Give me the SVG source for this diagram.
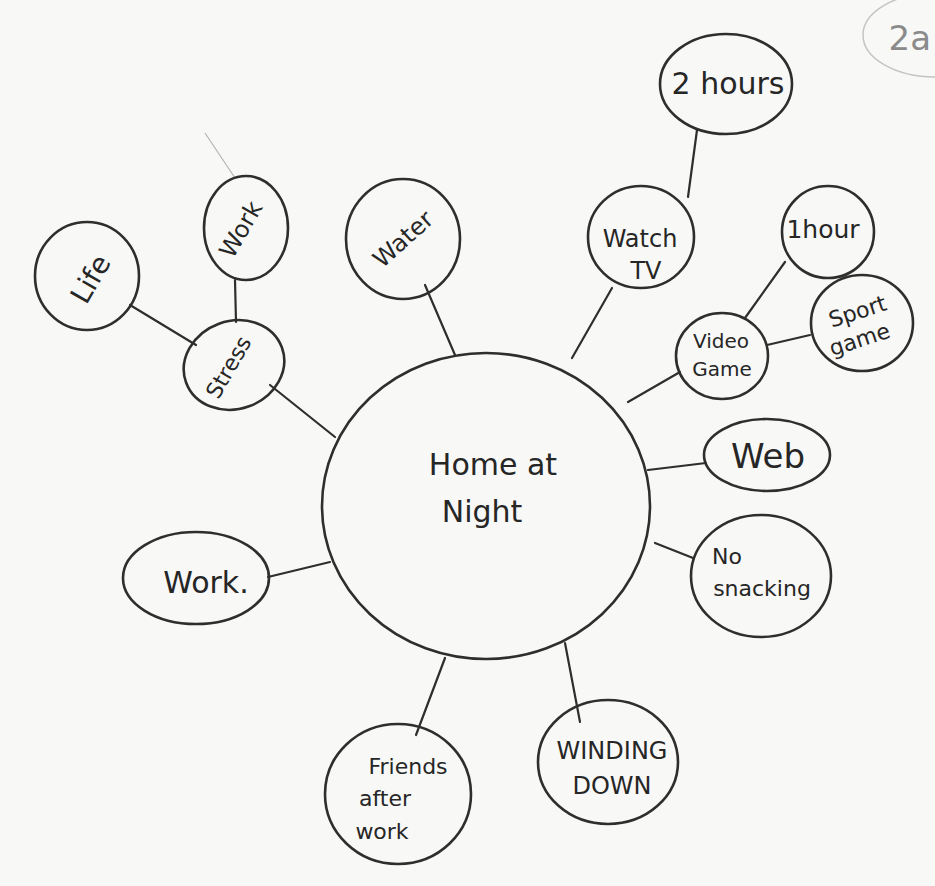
<svg xmlns="http://www.w3.org/2000/svg" width="935" height="886" viewBox="0 0 935 886">
<style>
.n{fill:none;stroke:#2e2e2e;stroke-width:2.6}
.c{fill:none;stroke:#2e2e2e;stroke-width:2.2;stroke-linecap:round}
.t{font-family:"DejaVu Sans","Liberation Sans",sans-serif;fill:#262626;text-anchor:middle;dominant-baseline:middle}
</style>
<rect width="935" height="886" fill="#f8f8f6"/>
<g id="corner">
<ellipse cx="935" cy="35" rx="72" ry="42" fill="none" stroke="#c4c4c4" stroke-width="1.5"/>
<text x="931" y="40" font-size="34" font-family="DejaVu Sans, Liberation Sans, sans-serif" text-anchor="end" dominant-baseline="middle" fill="#8a8a8a">2a</text>
</g>
<g id="connectors">
<line class="c" x1="335" y1="437" x2="270" y2="385"/>
<line class="c" x1="196" y1="345" x2="130" y2="305"/>
<line class="c" x1="236" y1="322" x2="235" y2="280"/>
<line x1="205" y1="133" x2="235" y2="178" stroke="#b5b5b5" stroke-width="1.2"/>
<line class="c" x1="425" y1="285" x2="455" y2="355"/>
<line class="c" x1="612" y1="288" x2="572" y2="358"/>
<line class="c" x1="688" y1="197" x2="697" y2="130"/>
<line class="c" x1="680" y1="372" x2="628" y2="402"/>
<line class="c" x1="745" y1="318" x2="785" y2="262"/>
<line class="c" x1="767" y1="345" x2="810" y2="335"/>
<line class="c" x1="648" y1="470" x2="706" y2="463"/>
<line class="c" x1="655" y1="543" x2="693" y2="558"/>
<line class="c" x1="268" y1="577" x2="330" y2="562"/>
<line class="c" x1="445" y1="658" x2="416" y2="735"/>
<line class="c" x1="565" y1="643" x2="580" y2="722"/>
</g>
<g id="home">
<ellipse class="n" cx="486" cy="506" rx="164" ry="153"/>
<text class="t" x="493" y="466" font-size="30">Home at</text>
<text class="t" x="482" y="513" font-size="30">Night</text>
</g>
<g id="life">
<ellipse class="n" cx="87" cy="276" rx="52" ry="54"/>
<text class="t" x="92" y="280" font-size="28" transform="rotate(-60 92 280)">Life</text>
</g>
<g id="work-top">
<ellipse class="n" cx="246" cy="228" rx="42" ry="52"/>
<text class="t" x="242" y="230" font-size="24" transform="rotate(-60 242 230)">Work</text>
</g>
<g id="stress">
<ellipse class="n" cx="234" cy="365" rx="51" ry="44" transform="rotate(-20 234 365)"/>
<text class="t" x="230" y="368" font-size="22" transform="rotate(-60 230 368)">Stress</text>
</g>
<g id="water">
<ellipse class="n" cx="403" cy="239" rx="57" ry="60"/>
<text class="t" x="404" y="240" font-size="24" transform="rotate(-42 404 240)">Water</text>
</g>
<g id="two-hours">
<ellipse class="n" cx="726" cy="84" rx="66" ry="50"/>
<text class="t" x="728" y="85" font-size="30">2 hours</text>
</g>
<g id="watch-tv">
<ellipse class="n" cx="641" cy="237" rx="53" ry="51"/>
<text class="t" x="640" y="240" font-size="24">Watch</text>
<text class="t" x="646" y="272" font-size="24">TV</text>
</g>
<g id="one-hour">
<ellipse class="n" cx="828" cy="232" rx="46" ry="46"/>
<text class="t" x="823" y="231" font-size="25">1hour</text>
</g>
<g id="video-game">
<ellipse class="n" cx="722" cy="356" rx="46" ry="43"/>
<text class="t" x="721" y="342" font-size="20">Video</text>
<text class="t" x="722" y="370" font-size="20">Game</text>
</g>
<g id="sport-game">
<ellipse class="n" cx="862" cy="323" rx="51" ry="48"/>
<text class="t" x="858" y="313" font-size="22" transform="rotate(-18 858 313)">Sport</text>
<text class="t" x="860" y="341" font-size="22" transform="rotate(-18 860 341)">game</text>
</g>
<g id="web">
<ellipse class="n" cx="767" cy="455" rx="63" ry="36"/>
<text class="t" x="768" y="458" font-size="34">Web</text>
</g>
<g id="no-snacking">
<ellipse class="n" cx="761" cy="576" rx="70" ry="61"/>
<text class="t" x="727" y="558" font-size="22">No</text>
<text class="t" x="762" y="590" font-size="22">snacking</text>
</g>
<g id="work-left">
<ellipse class="n" cx="196" cy="578" rx="73" ry="46"/>
<text class="t" x="206" y="584" font-size="30">Work.</text>
</g>
<g id="friends">
<ellipse class="n" cx="398" cy="794" rx="73" ry="70"/>
<text class="t" x="408" y="768" font-size="22">Friends</text>
<text class="t" x="385" y="800" font-size="22">after</text>
<text class="t" x="382" y="833" font-size="22">work</text>
</g>
<g id="winding-down">
<ellipse class="n" cx="608" cy="762" rx="70" ry="62"/>
<text class="t" x="612" y="752" font-size="24">WINDING</text>
<text class="t" x="612" y="787" font-size="24">DOWN</text>
</g>
</svg>
